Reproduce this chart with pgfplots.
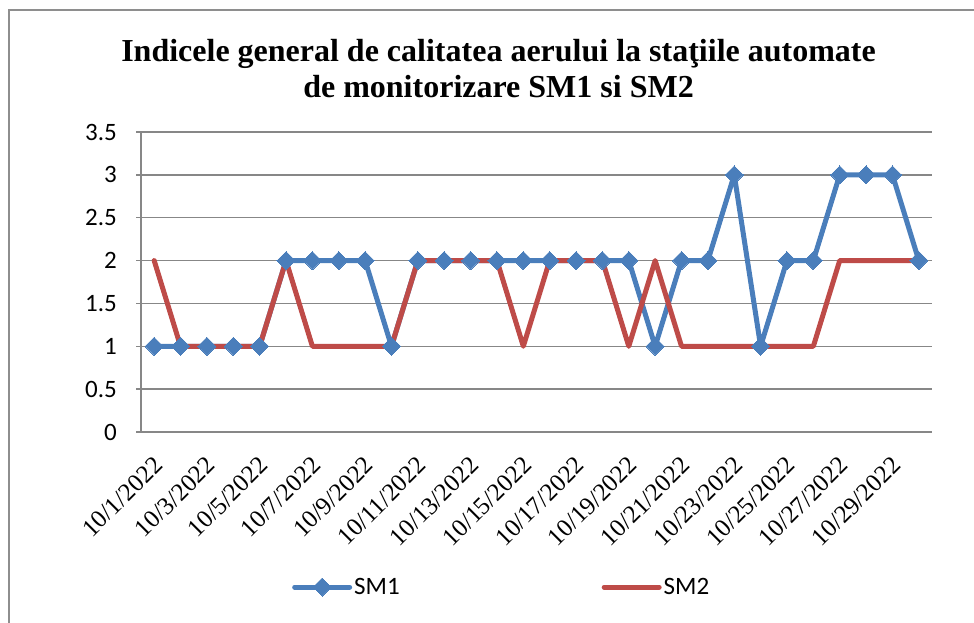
\documentclass[border=0pt]{standalone}
\usepackage{fontspec}
\setmainfont{Liberation Serif}
\newfontfamily\carlito{Carlito}
\newfontfamily\timesf{Liberation Serif}
\newcommand{\xl}[1]{\hbox{\timesf\fontsize{25}{30}\selectfont #1}}
\newcommand{\yl}[1]{\hbox{\carlito\fontsize{25}{30}\selectfont #1}}
\usepackage{pgfplots}
\pgfplotsset{compat=1.18}
\definecolor{smblue}{HTML}{4A7EBB}
\definecolor{smred}{HTML}{BE4B48}
\definecolor{gridgray}{HTML}{878787}
\definecolor{framegray}{HTML}{8E8E8E}
\begin{document}
\begin{tikzpicture}
\useasboundingbox (0,0) rectangle (974pt,623pt);
\draw[framegray, line width=2pt] (9pt,-5pt) -- (9pt,613pt) -- (990pt,613pt);
\begin{axis}[
  at={(141pt,191pt)}, anchor=south west,
  width=791pt, height=300pt, scale only axis,
  xmin=0.5, xmax=30.5, ymin=0, ymax=3.5,
  ytick={0,0.5,1,1.5,2,2.5,3,3.5},
  yticklabels={\yl{0},\yl{0.5},\yl{1},\yl{1.5},\yl{2},\yl{2.5},\yl{3},\yl{3.5}},
  xtick={1,3,5,7,9,11,13,15,17,19,21,23,25,27,29},
  xticklabels={\xl{10/1/2022},\xl{10/3/2022},\xl{10/5/2022},\xl{10/7/2022},\xl{10/9/2022},\xl{10/11/2022},\xl{10/13/2022},\xl{10/15/2022},\xl{10/17/2022},\xl{10/19/2022},\xl{10/21/2022},\xl{10/23/2022},\xl{10/25/2022},\xl{10/27/2022},\xl{10/29/2022}},
  axis x line*=bottom, axis y line*=left,
  axis line style={-, gridgray, line width=1.5pt},
  ymajorgrids, grid style={gridgray, line width=1.5pt},
  tick align=outside, major tick length=5pt,
  xtick style={draw=none},
  ytick style={gridgray, line width=1.5pt},
  yticklabel style={inner sep=0pt, xshift=-19pt},
  xticklabel style={xshift=4pt, yshift=-24pt, rotate=45, anchor=east, inner sep=0pt},
  clip=false,
  title={Indicele general de calitatea aerului la staţiile automate\\de monitorizare SM1 si SM2},
  title style={font=\bfseries\fontsize{32}{36}\selectfont, align=center, at={(axis description cs:0.452,1.19)}, anchor=center},
  legend columns=2,
  legend style={at={(axis description cs:0.456,-0.517)}, anchor=center, draw=none, font=\carlito\fontsize{25}{30}\selectfont, /tikz/every even column/.append style={column sep=200pt}},
  legend image code/.code={\draw[mark repeat=2, mark phase=2, #1] plot coordinates {(0pt,0pt) (27.5pt,0pt) (55pt,0pt)};},
]
\addplot[smblue, line width=5pt, line join=round, line cap=round, mark=square*, mark size=6.4pt, mark options={rotate=45, solid, fill=smblue, line width=0pt}]
  coordinates {(1,1)(2,1)(3,1)(4,1)(5,1)(6,2)(7,2)(8,2)(9,2)(10,1)(11,2)(12,2)(13,2)(14,2)(15,2)(16,2)(17,2)(18,2)(19,2)(20,1)(21,2)(22,2)(23,3)(24,1)(25,2)(26,2)(27,3)(28,3)(29,3)(30,2)};
\addlegendentry{SM1}
\addplot[smred, line width=5pt, line join=round, line cap=round, mark=none]
  coordinates {(1,2)(2,1)(3,1)(4,1)(5,1)(6,2)(7,1)(8,1)(9,1)(10,1)(11,2)(12,2)(13,2)(14,2)(15,1)(16,2)(17,2)(18,2)(19,1)(20,2)(21,1)(22,1)(23,1)(24,1)(25,1)(26,1)(27,2)(28,2)(29,2)(30,2)};
\addlegendentry{SM2}
\end{axis}
\end{tikzpicture}
\end{document}
